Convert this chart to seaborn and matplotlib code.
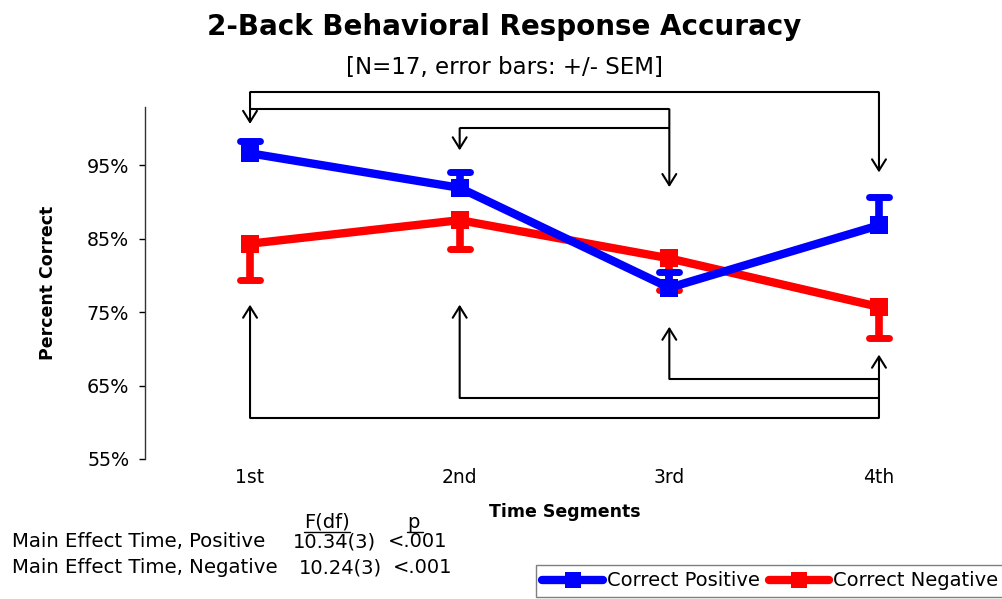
#!/usr/bin/env python3
import pandas as pd
import matplotlib
matplotlib.use("Agg")
import matplotlib.pyplot as plt
from matplotlib.lines import Line2D
from matplotlib.markers import MarkerStyle
import seaborn as sns

# ---------------------------
# DATA
# ---------------------------
segments = ["1st", "2nd", "3rd", "4th"]
positive = [96.6, 91.9, 78.3, 86.8]
positive_sem = [1.7, 2.2, 2.2, 3.9]      # drawn upwards only
negative = [84.3, 87.5, 82.3, 75.7]
negative_sem = [5.0, 3.9, 4.35, 4.2]     # drawn downwards only

y_ticks = [55, 65, 75, 85, 95]
y_tick_labels = ["55%", "65%", "75%", "85%", "95%"]

# significance brackets: (from, to, level) and arrow tip per segment
top_brackets = [("1st", "4th", 104.9), ("1st", "3rd", 102.6), ("2nd", "3rd", 100.0)]
top_tips = {"1st": 100.6, "2nd": 97.0, "3rd": 92.0, "4th": 94.0}
bottom_brackets = [("3rd", "4th", 65.9), ("2nd", "4th", 63.3), ("1st", "4th", 60.6)]
bottom_tips = {"1st": 76.0, "2nd": 76.0, "3rd": 73.0, "4th": 69.2}

stats_rows = ["Main Effect Time, Positive", "Main Effect Time, Negative"]
stats_f = ["10.34(3)", "10.24(3)"]
stats_p = ["<.001", "<.001"]

BLUE = "#0000FF"
RED = "#FF0000"
W, H = 1003, 599


def px(x, y):
    """pixel position (from top-left) -> figure fraction"""
    return x / W, 1 - y / H


def draw_series(ax, values, sem, color, label, up, z):
    df = pd.DataFrame({"pos": range(len(segments)), "value": values})
    sns.lineplot(data=df, x="pos", y="value", color=color, lw=6, marker="s",
                 markersize=12.5, markeredgewidth=0, sort=False, legend=False,
                 ax=ax, zorder=z)
    lower = [0] * len(sem) if up else sem
    upper = sem if up else [0] * len(sem)
    _, caps, bars = ax.errorbar(df["pos"], df["value"], yerr=[lower, upper], fmt="none",
                                ecolor=color, elinewidth=5.5, capsize=7.5, capthick=5,
                                zorder=z + 0.5)
    for b in bars:
        b.set_capstyle("butt")
    # caps: lower first, then upper -> hide the one sitting at the marker
    caps[0 if up else 1].set_visible(False)
    for c in caps:
        c.set_marker(MarkerStyle("_", capstyle="round"))
    return Line2D([], [], color=color, lw=6, marker="s", markersize=11,
                  markeredgewidth=0, solid_capstyle="round", label=label)


def draw_brackets(ax, brackets, tips, top):
    pos = {s: i for i, s in enumerate(segments)}
    for a, b, level in brackets:
        ax.plot([pos[a], pos[b]], [level, level], color="black", lw=1.5,
                clip_on=False, solid_capstyle="butt")
    for seg, tip in tips.items():
        levels = [lv for a, b, lv in brackets if seg in (a, b)]
        start = max(levels) if top else min(levels)
        ax.annotate("", xy=(pos[seg], tip), xytext=(pos[seg], start),
                    annotation_clip=False,
                    arrowprops=dict(arrowstyle="->,head_length=0.8,head_width=0.5",
                                    mutation_scale=10, lw=1.5, color="black",
                                    shrinkA=0, shrinkB=0))


def main():
    sns.set_style("white")
    plt.rcParams["font.family"] = ["DejaVu Sans"]
    plt.rcParams["text.color"] = "black"
    plt.rcParams["axes.labelcolor"] = "black"
    plt.rcParams["xtick.color"] = "black"
    plt.rcParams["ytick.color"] = "black"

    fig = plt.figure(figsize=(W / 100, H / 100), dpi=100)
    ax = fig.add_axes([145.2 / W, 1 - 459 / H, 838.6 / W, 352 / H])

    h_neg = draw_series(ax, negative, negative_sem, RED, "Correct Negative", up=False, z=2)
    h_pos = draw_series(ax, positive, positive_sem, BLUE, "Correct Positive", up=True, z=3)

    draw_brackets(ax, top_brackets, top_tips, top=True)
    draw_brackets(ax, bottom_brackets, bottom_tips, top=False)

    ax.set_xlim(-0.5, len(segments) - 0.5)
    ax.set_ylim(55, 102.9)
    ax.set_xticks(range(len(segments)))
    ax.set_xticklabels(segments)
    ax.set_yticks(y_ticks)
    ax.set_yticklabels(y_tick_labels)
    ax.tick_params(axis="y", length=4.5, width=1, direction="out", pad=7,
                   labelsize=13.8, left=True, colors="black")
    ax.tick_params(axis="x", length=0, pad=6.5, labelsize=13.5, colors="black")
    sns.despine(ax=ax, top=True, right=True, bottom=True, left=False)
    ax.spines["left"].set_color("#333333")
    ax.spines["left"].set_linewidth(1)

    ax.set_xlabel("Time Segments", fontsize=12.5, fontweight="bold")
    ax.xaxis.set_label_coords(0.5, -0.125)
    ax.set_ylabel("Percent Correct", fontsize=12.5, fontweight="bold")
    ax.yaxis.set_label_coords(-0.105, 0.5)

    # titles
    fig.text(*px(504, 35), "2-Back Behavioral Response Accuracy", ha="center",
             va="baseline", fontsize=20, fontweight="bold")
    fig.text(*px(505, 74), "[N=17, error bars: +/- SEM]", ha="center",
             va="baseline", fontsize=16.5)

    # statistics table under the chart
    head_f = fig.text(*px(327, 528), "F(df)", ha="center", va="baseline", fontsize=14)
    head_p = fig.text(*px(413, 528), "p", ha="center", va="baseline", fontsize=14)
    for i, (row, f, p) in enumerate(zip(stats_rows, stats_f, stats_p)):
        y = 547 + 26 * i
        fig.text(*px(12, y), row, ha="left", va="baseline", fontsize=14.2)
        fig.text(*px(293 + 6 * i, y), f, ha="left", va="baseline", fontsize=14)
        fig.text(*px(388 + 5 * i, y), p, ha="left", va="baseline", fontsize=14)

    renderer = fig.canvas.get_renderer()
    for t, extra in [(head_f, 0), (head_p, 4)]:
        bb = t.get_window_extent(renderer).transformed(fig.transFigure.inverted())
        yl = 1 - 531.5 / H
        fig.add_artist(Line2D([bb.x0, bb.x1 + extra / W], [yl, yl], color="black",
                              lw=1, transform=fig.transFigure))

    fig.legend(handles=[h_pos, h_neg], loc="upper left",
               bbox_to_anchor=px(536, 565), ncol=2, fontsize=14,
               frameon=True, fancybox=False, edgecolor="#7f7f7f", framealpha=1,
               borderaxespad=0, borderpad=0.33, handlelength=3.1,
               handletextpad=0.2, columnspacing=0.5)

    fig.savefig("out.png", dpi=100)


if __name__ == "__main__":
    main()
